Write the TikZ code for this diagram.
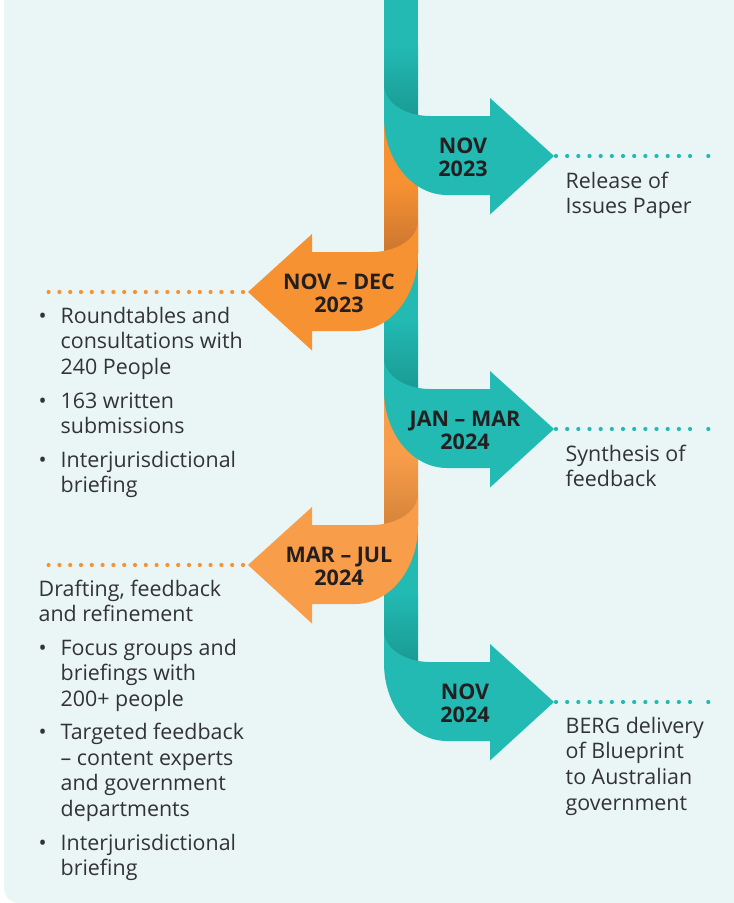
\documentclass[tikz,border=0pt]{standalone}
\usepackage{fontspec}
\setmainfont{Open Sans}
\definecolor{panel}{HTML}{EAF6F6}
\definecolor{teal1}{HTML}{22BAB3}
\definecolor{teal2}{HTML}{1A9A94}
\definecolor{orangeA}{HTML}{F79232}
\definecolor{orangeAd}{HTML}{CC7630}
\definecolor{orangeB}{HTML}{F89D4A}
\definecolor{orangeBd}{HTML}{D5843A}
\definecolor{ink}{HTML}{231F20}
\definecolor{body}{HTML}{333333}

% ribbon folding out of the trunk towards the right, tip at height #1
\newcommand\ribbonright[2]{%
  \fill[#2, shift={(0,#1)}] (384,-71) .. controls (384,-53.9) and (404.6,-40) .. (430,-40)
    -- (490,-40) -- (490,-58) -- (554,0) -- (490,58.5) -- (490,39) -- (447,39)
    .. controls (412.2,39) and (384,4.1) .. (384,-39) -- cycle;}
% ribbon folding out of the trunk towards the left, tip at height #1
\newcommand\ribbonleft[2]{%
  \fill[#2, shift={(0,#1)}] (418,-71) .. controls (418,-53.9) and (397.4,-40) .. (372,-40)
    -- (312,-40) -- (312,-58) -- (248,0) -- (312,58.5) -- (312,39) -- (355,39)
    .. controls (389.8,39) and (418,4.1) .. (418,-39) -- cycle;}
% one trunk piece from #1 to #2, darkening towards the fold below it
\newcommand\trunkpiece[4]{%
  \fill[#3] (384,#1) rectangle (418,#2);
  \shade[top color=#3, bottom color=#4] (384,#2-70) rectangle (418,#2);}

\newcommand\bodyfont{\fontsize{21.4}{25.7}\selectfont}
\newcommand\datefont{\fontsize{21.5}{23.5}\selectfont\bfseries}
\newcommand\lines[1]{\begin{tabular}[t]{@{}l@{}}#1\end{tabular}}
\newcommand\clines[1]{\begin{tabular}[t]{@{}c@{}}#1\end{tabular}}

\begin{document}
\begin{tikzpicture}[x=1pt,y=-1pt,
  datelabel/.style={anchor=base, inner sep=0pt, text=ink, font=\datefont},
  bodytext/.style={anchor=base west, inner sep=0pt, text=body, font=\bodyfont},
  bulletmark/.style={anchor=base, inner sep=0pt, text=body, font=\bodyfont},
  tealdots/.style={draw=teal1, line width=4.2pt, line cap=round, dash pattern=on 0pt off 11.17pt},
  orangedots/.style={draw=orangeA, line width=4.2pt, line cap=round, dash pattern=on 0pt off 10.8pt}]
\useasboundingbox (0,0) rectangle (734,903);
\fill[white] (0,0) rectangle (734,903);
\fill[panel] (4,0) -- (734,0) -- (734,903) -- (19,903)
  .. controls (10.7,903) and (4,896.3) .. (4,888) -- cycle;

% dotted leaders
\coordinate (s1) at (556,156); \coordinate (e1) at (701.2,156); \coordinate (f1) at (708.3,156);
\coordinate (s2) at (243,292); \coordinate (e2) at (38,292);
\coordinate (s3) at (556,429); \coordinate (e3) at (701.2,429); \coordinate (f3) at (708.3,429);
\coordinate (s4) at (243,565); \coordinate (e4) at (38,565);
\coordinate (s5) at (556,702); \coordinate (e5) at (701.2,702); \coordinate (f5) at (708.3,702);
\draw[tealdots] (s1) -- (e1); \fill[teal1] (f1) circle (2.1);
\draw[orangedots] (s2) -- (e2);
\draw[tealdots] (s3) -- (e3); \fill[teal1] (f3) circle (2.1);
\draw[orangedots] (s4) -- (e4);
\draw[tealdots] (s5) -- (e5); \fill[teal1] (f5) circle (2.1);

% trunk
\trunkpiece{0}{116}{teal1}{teal2}
\trunkpiece{116}{252}{orangeA}{orangeAd}
\trunkpiece{252}{389}{teal1}{teal2}
\trunkpiece{389}{525}{orangeB}{orangeBd}
\trunkpiece{525}{662}{teal1}{teal2}

% ribbons
\ribbonright{156}{teal1}
\ribbonleft{292}{orangeA}
\ribbonright{429}{teal1}
\ribbonleft{565}{orangeB}
\ribbonright{702}{teal1}

% dates
\node[datelabel] (d1) at (463,153) {\clines{NOV\\2023}};
\node[datelabel] (d2) at (339,289) {\clines{NOV – DEC\\2023}};
\node[datelabel] (d3) at (465,426) {\clines{JAN – MAR\\2024}};
\node[datelabel] (d4) at (339,562) {\clines{MAR – JUL\\2024}};
\node[datelabel] (d5) at (465,699) {\clines{NOV\\2024}};

% right-hand notes
\node[bodytext] (r1) at (565.5,188) {\lines{Release of\\Issues Paper}};
\node[bodytext] (r3) at (565.5,461) {\lines{Synthesis of\\feedback}};
\node[bodytext] (r5) at (565.5,733) {\lines{BERG delivery\\of Blueprint\\to Australian\\government}};

% left-hand notes
\node[bulletmark] (b21) at (42.7,323) {•};
\node[bodytext] (t21) at (60.5,323) {\lines{Roundtables and\\consultations with\\240 People}};
\node[bulletmark] (b22) at (42.7,408) {•};
\node[bodytext] (t22) at (60.5,408) {\lines{163 written\\submissions}};
\node[bulletmark] (b23) at (42.7,467) {•};
\node[bodytext] (t23) at (60.5,467) {\lines{Interjurisdictional\\briefing}};

\node[bodytext] (t40) at (38.5,596) {\lines{Drafting, feedback\\and refinement}};
\node[bulletmark] (b41) at (42.7,655) {•};
\node[bodytext] (t41) at (60.5,655) {\lines{Focus groups and\\briefings with\\200+ people}};
\node[bulletmark] (b42) at (42.7,739.5) {•};
\node[bodytext] (t42) at (60.5,739.5) {\lines{Targeted feedback\\– content experts\\and government\\departments}};
\node[bulletmark] (b43) at (42.7,850) {•};
\node[bodytext] (t43) at (60.5,850) {\lines{Interjurisdictional\\briefing}};
\end{tikzpicture}
\end{document}
